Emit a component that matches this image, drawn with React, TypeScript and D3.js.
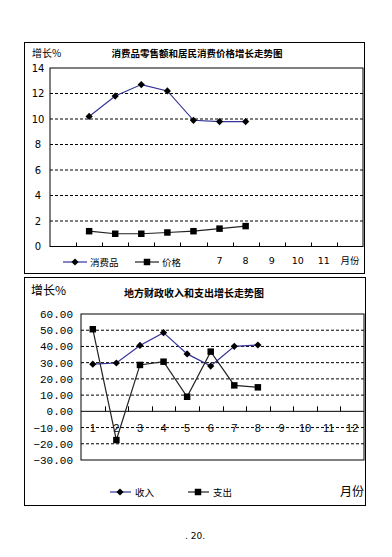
import React, { useRef, useEffect } from 'react';
import * as d3 from 'd3';

// top chart: retail sales & consumer price growth
const months = ['1', '2', '3', '4', '5', '6', '7', '8', '9', '10', '11', '12'];
const topTickLabels = ['', '', '', '', '', '', '7', '8', '9', '10', '11', '月份'];
const topMonths = ['2', '3', '4', '5', '6', '7', '8'];
const retailGrowth = [10.2, 11.8, 12.7, 12.2, 9.9, 9.8, 9.8];
const priceGrowth = [1.2, 1.0, 1.0, 1.1, 1.2, 1.4, 1.6];
const topYTicks = [0, 2, 4, 6, 8, 10, 12, 14];

// bottom chart: local fiscal revenue & expenditure growth
const bottomMonths = ['1', '2', '3', '4', '5', '6', '7', '8'];
const revenueGrowth = [29.1, 29.8, 40.6, 48.5, 35.4, 27.9, 40.1, 40.9];
const expenditureGrowth = [50.6, -17.7, 28.6, 30.6, 9.0, 36.8, 16.0, 14.8];
const bottomYTicks = [-30, -20, -10, 0, 10, 20, 30, 40, 50, 60];

const CJK = '"Noto Sans CJK SC", sans-serif';
const NAVY = '#33339a';

const App = () => {
  const svgRef = useRef<SVGSVGElement>(null);

  useEffect(() => {
    const svg = d3.select(svgRef.current);
    svg.selectAll('*').remove();

    svg.append('rect').attr('width', 392).attr('height', 557).attr('fill', '#fff');

    // diamond = square turned 45deg (d3's diamond is too narrow)
    const diamond = d3.symbol().type(d3.symbolSquare).size(26);
    const square = d3.symbol().type(d3.symbolSquare).size(42);
    const markDiamond = (xx: number, yy: number) =>
      svg.append('path').attr('d', diamond)
        .attr('transform', `translate(${xx},${yy}) rotate(45)`).attr('fill', '#000');
    const markSquare = (xx: number, yy: number) =>
      svg.append('path').attr('d', square)
        .attr('transform', `translate(${xx},${yy})`).attr('fill', '#000');

    // ---------- TOP CHART ----------
    svg.append('rect')
      .attr('x', 24.5).attr('y', 42.5).attr('width', 340).attr('height', 231)
      .attr('fill', 'none').attr('stroke', '#000').attr('stroke-width', 1);

    const x1 = d3.scaleBand().domain(months).range([50, 363]);
    const y1 = d3.scaleLinear().domain([0, 14]).range([246.5, 68]);

    // grid
    topYTicks.filter(t => t > 0 && t < 14).forEach(t => {
      svg.append('line')
        .attr('x1', 50).attr('x2', 363).attr('y1', y1(t)).attr('y2', y1(t))
        .attr('stroke', '#000').attr('stroke-width', 1).attr('stroke-dasharray', '3,2');
    });
    svg.append('rect')
      .attr('x', 50).attr('y', y1(14)).attr('width', 313).attr('height', y1(0) - y1(14))
      .attr('fill', 'none').attr('stroke', '#000').attr('stroke-width', 1);

    // x ticks (upwards)
    months.slice(1).forEach(m => {
      const xx = Math.round(x1(m)!) + 0.5;
      svg.append('line').attr('x1', xx).attr('x2', xx).attr('y1', y1(0)).attr('y2', y1(0) - 4)
        .attr('stroke', '#000');
    });

    topYTicks.forEach(t => {
      svg.append('text')
        .attr('x', 38).attr('y', y1(t) + 3.5)
        .attr('text-anchor', 'middle')
        .style('font-family', '"DejaVu Sans", sans-serif').style('font-size', '10px')
        .text(t);
    });

    months.forEach((m, i) => {
      if (!topTickLabels[i]) return;
      svg.append('text')
        .attr('x', x1(m)! + x1.bandwidth() / 2).attr('y', 264)
        .attr('text-anchor', 'middle')
        .style('font-family', i === 11 ? CJK : '"DejaVu Sans", sans-serif').style('font-size', '9.5px')
        .text(topTickLabels[i]);
    });

    const line1 = d3.line<number>()
      .x((d, i) => x1(topMonths[i])! + x1.bandwidth() / 2)
      .y(d => y1(d));

    svg.append('path').datum(retailGrowth).attr('d', line1)
      .attr('fill', 'none').attr('stroke', NAVY).attr('stroke-width', 1.2);
    svg.append('path').datum(priceGrowth).attr('d', line1)
      .attr('fill', 'none').attr('stroke', '#222').attr('stroke-width', 1.2);

    retailGrowth.forEach((d, i) => markDiamond(x1(topMonths[i])! + x1.bandwidth() / 2, y1(d)));
    priceGrowth.forEach((d, i) => markSquare(x1(topMonths[i])! + x1.bandwidth() / 2, y1(d)));

    svg.append('text').attr('x', 32).attr('y', 57)
      .style('font-family', CJK).style('font-size', '10px').text('增长%');
    svg.append('text').attr('x', 197).attr('y', 57).attr('text-anchor', 'middle')
      .style('font-family', CJK).style('font-size', '9.5px').style('font-weight', 'bold')
      .text('消费品零售额和居民消费价格增长走势图');

    // legend
    const leg1 = [
      { label: '消费品', color: NAVY, mark: markDiamond, x: 63 },
      { label: '价格', color: '#222', mark: markSquare, x: 135 },
    ];
    leg1.forEach(l => {
      svg.append('line').attr('x1', l.x).attr('x2', l.x + 24).attr('y1', 262).attr('y2', 262)
        .attr('stroke', l.color).attr('stroke-width', 1.2);
      l.mark(l.x + 12, 262);
      svg.append('text').attr('x', l.x + 27).attr('y', 265.5)
        .style('font-family', CJK).style('font-size', '9.5px').text(l.label);
    });

    // ---------- BOTTOM CHART ----------
    svg.append('rect')
      .attr('x', 24.5).attr('y', 277.5).attr('width', 341).attr('height', 228)
      .attr('fill', 'none').attr('stroke', '#000').attr('stroke-width', 1);

    const x2 = d3.scaleBand().domain(months).range([81, 364]);
    const y2 = d3.scaleLinear().domain([-30, 60]).range([460, 314]);

    bottomYTicks.filter(t => t !== 0 && t > -30 && t < 60).forEach(t => {
      svg.append('line')
        .attr('x1', 81).attr('x2', 364).attr('y1', y2(t)).attr('y2', y2(t))
        .attr('stroke', '#000').attr('stroke-width', 1).attr('stroke-dasharray', '3,2');
    });
    svg.append('rect')
      .attr('x', 81).attr('y', y2(60)).attr('width', 283).attr('height', y2(-30) - y2(60))
      .attr('fill', 'none').attr('stroke', '#000').attr('stroke-width', 1);
    svg.append('line').attr('x1', 81).attr('x2', 364).attr('y1', y2(0)).attr('y2', y2(0))
      .attr('stroke', '#000').attr('stroke-width', 1);

    months.slice(1).forEach(m => {
      const xx = Math.round(x2(m)!) + 0.5;
      svg.append('line').attr('x1', xx).attr('x2', xx).attr('y1', y2(0)).attr('y2', y2(0) - 5)
        .attr('stroke', '#000');
    });

    bottomYTicks.forEach(t => {
      svg.append('text')
        .attr('x', 73).attr('y', y2(t) + 4)
        .attr('text-anchor', 'end')
        .style('font-family', '"Liberation Mono", monospace').style('font-size', '11px')
        .text(d3.format('.2f')(t));
    });

    months.forEach(m => {
      svg.append('text')
        .attr('x', x2(m)! + x2.bandwidth() / 2).attr('y', 432)
        .attr('text-anchor', 'middle')
        .style('font-family', '"Liberation Sans", sans-serif').style('font-size', '11px')
        .text(m);
    });

    const line2 = d3.line<number>()
      .x((d, i) => x2(bottomMonths[i])! + x2.bandwidth() / 2)
      .y(d => y2(d));

    svg.append('path').datum(revenueGrowth).attr('d', line2)
      .attr('fill', 'none').attr('stroke', NAVY).attr('stroke-width', 1.2);
    svg.append('path').datum(expenditureGrowth).attr('d', line2)
      .attr('fill', 'none').attr('stroke', '#222').attr('stroke-width', 1.2);

    revenueGrowth.forEach((d, i) => markDiamond(x2(bottomMonths[i])! + x2.bandwidth() / 2, y2(d)));
    expenditureGrowth.forEach((d, i) => markSquare(x2(bottomMonths[i])! + x2.bandwidth() / 2, y2(d)));

    svg.append('text').attr('x', 31).attr('y', 295)
      .style('font-family', CJK).style('font-size', '12px').text('增长%');
    svg.append('text').attr('x', 194).attr('y', 297).attr('text-anchor', 'middle')
      .style('font-family', CJK).style('font-size', '10px').style('font-weight', 'bold')
      .text('地方财政收入和支出增长走势图');

    const leg2 = [
      { label: '收入', color: NAVY, mark: markDiamond, x: 110 },
      { label: '支出', color: '#222', mark: markSquare, x: 188 },
    ];
    leg2.forEach(l => {
      svg.append('line').attr('x1', l.x).attr('x2', l.x + 21).attr('y1', 492).attr('y2', 492)
        .attr('stroke', l.color).attr('stroke-width', 1.2);
      l.mark(l.x + 10, 492);
      svg.append('text').attr('x', l.x + 25).attr('y', 495.5)
        .style('font-family', CJK).style('font-size', '9.5px').text(l.label);
    });

    svg.append('text').attr('x', 340).attr('y', 496)
      .style('font-family', CJK).style('font-size', '12px').text('月份');

    svg.append('text').attr('x', 195).attr('y', 539).attr('text-anchor', 'middle')
      .style('font-family', '"DejaVu Sans", sans-serif').style('font-size', '9px')
      .text('. 20.');
  }, []);

  return (
    <div style={{ position: 'absolute', left: 0, top: 0, width: 392, height: 557 }}>
      <svg ref={svgRef} width={392} height={557} style={{ display: 'block' }} />
    </div>
  );
};

export default App;
